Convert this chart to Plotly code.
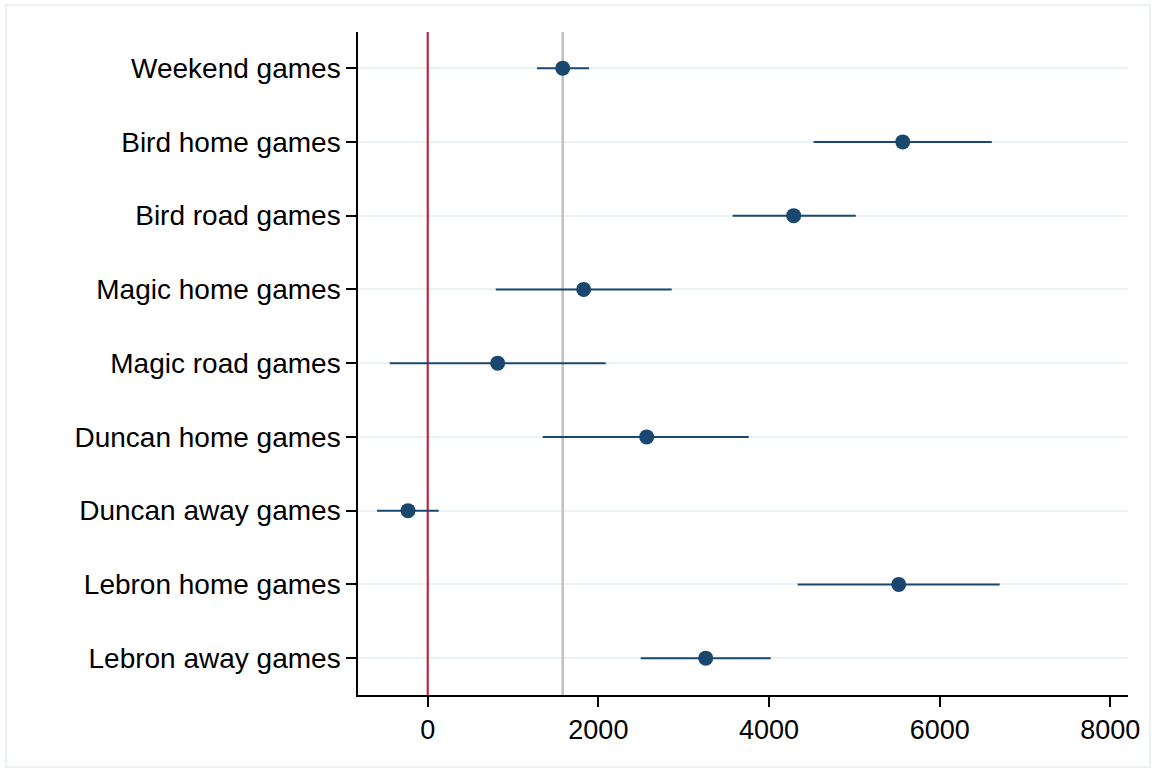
import plotly.graph_objects as go

categories = ["Weekend games", "Bird home games", "Bird road games", "Magic home games",
              "Magic road games", "Duncan home games", "Duncan away games",
              "Lebron home games", "Lebron away games"]
estimates = [1582, 5567, 4289, 1828, 820, 2566, -231, 5520, 3258]
ci_low = [1281, 4523, 3574, 797, -445, 1348, -594, 4336, 2496]
ci_high = [1890, 6610, 5016, 2859, 2086, 3762, 129, 6703, 4020]
reference_value = 1582
x_ticks = [0, 2000, 4000, 6000, 8000]

navy = "#1a476f"
positions = list(range(len(categories)))
y_lo, y_hi = -0.49, len(categories) - 0.5

fig = go.Figure()
# vertical reference lines as traces: above gridlines, below the markers
fig.add_trace(go.Scatter(x=[0, 0], y=[y_lo, y_hi], mode="lines",
                         line=dict(color="#c8102e", width=2),
                         showlegend=False, hoverinfo="skip"))
fig.add_trace(go.Scatter(x=[reference_value, reference_value], y=[y_lo, y_hi], mode="lines",
                         line=dict(color="#c0c0c0", width=2.5),
                         showlegend=False, hoverinfo="skip"))
fig.add_trace(go.Scatter(
    x=estimates, y=positions, mode="markers",
    marker=dict(color=navy, size=15),
    error_x=dict(type="data", symmetric=False,
                 array=[h - e for h, e in zip(ci_high, estimates)],
                 arrayminus=[e - l for e, l in zip(estimates, ci_low)],
                 color=navy, thickness=2, width=0),
    showlegend=False, hoverinfo="skip"))

L, R, T, B = 358, 28, 32, 77
W, H = 1156, 772
pw, ph = W - L - R, H - T - B
fig.add_shape(type="rect", xref="paper", yref="paper",
              x0=(6 - L) / pw, x1=(1150 - L) / pw,
              y0=(H - B - 767) / ph, y1=(H - B - 5) / ph,
              line=dict(color="#e6edf1", width=1.5), layer="below")

fig.update_layout(
    width=W, height=H, margin=dict(l=L, r=R, t=T, b=B),
    paper_bgcolor="white", plot_bgcolor="white",
    font=dict(family="Liberation Sans, Arial, sans-serif", size=28, color="black"),
    xaxis=dict(range=[-817, 8207], tickvals=x_ticks, ticks="outside", ticklen=10,
               tickwidth=1.5, tickcolor="black", showline=True, linecolor="black",
               linewidth=1.5, showgrid=False, zeroline=False,
               tickfont=dict(size=27)),
    yaxis=dict(range=[y_hi, y_lo], tickvals=positions, ticktext=categories,
               ticks="outside", ticklen=10, tickwidth=1.5, tickcolor="black",
               showline=True, linecolor="black", linewidth=1.5,
               showgrid=True, gridcolor="#eaf2f3", gridwidth=2, zeroline=False,
               tickfont=dict(size=28)),
)
fig.write_html("out.html", post_script="document.body.style.margin='0';",
               config={"displayModeBar": False})
